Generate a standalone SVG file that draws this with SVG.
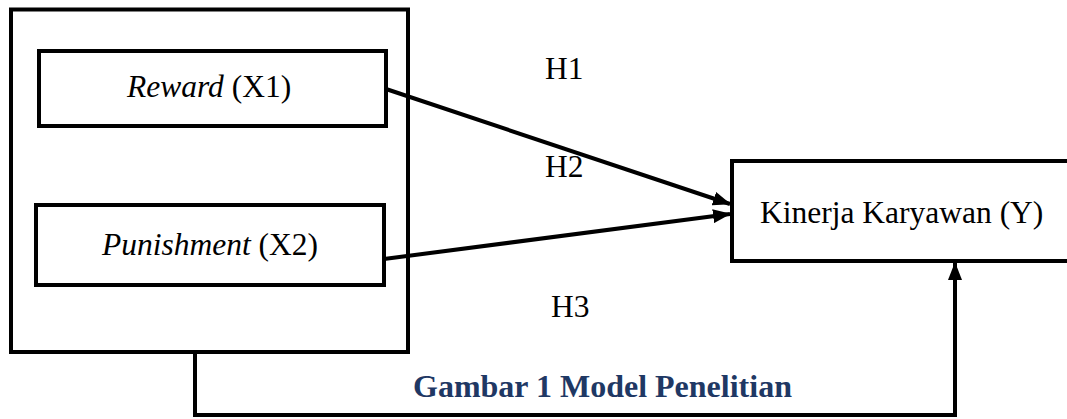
<svg xmlns="http://www.w3.org/2000/svg" width="1067" height="419" viewBox="0 0 1067 419">
<style>
.box{fill:#fff;stroke:#000;stroke-width:4}
.frame{fill:none;stroke:#000;stroke-width:4}
.t{font-family:"Liberation Serif","Times New Roman",serif;font-size:31.5px;fill:#000}
.i{font-style:italic}
.cap{font-family:"Liberation Serif","Times New Roman",serif;font-size:32px;font-weight:bold;fill:#1F3864}
.conn{fill:none;stroke:#000;stroke-width:4}
</style>
<defs>
<marker id="ah" markerUnits="userSpaceOnUse" markerWidth="18" markerHeight="14" refX="17" refY="7" orient="auto">
<path d="M0,0 L18,7 L0,14 Z" fill="#000"/>
</marker>
</defs>
<g id="group-x">
<rect class="frame" x="11" y="9.5" width="397" height="342.5"/>
</g>
<g id="reward">
<rect class="box" x="39" y="51" width="347" height="75"/>
<text class="t" x="127" y="97"><tspan class="i">Reward</tspan> (X1)</text>
</g>
<g id="punishment">
<rect class="box" x="36" y="205" width="348" height="80"/>
<text class="t" x="102" y="255"><tspan class="i">Punishment</tspan> (X2)</text>
</g>
<g id="kinerja">
<rect class="box" x="732" y="161" width="345" height="100"/>
<text class="t" x="760" y="223">Kinerja Karyawan (Y)</text>
</g>
<g id="connectors">
<line class="conn" x1="386" y1="89" x2="730" y2="204" marker-end="url(#ah)"/>
<line class="conn" x1="384" y1="259" x2="730" y2="214" marker-end="url(#ah)"/>
<polyline class="conn" points="195,352 195,415 955,415 955,263" marker-end="url(#ah)"/>
</g>
<g id="labels">
<text class="t" x="545" y="79">H1</text>
<text class="t" x="545" y="177">H2</text>
<text class="t" x="551" y="317">H3</text>
<text class="cap" x="413" y="397">Gambar 1 Model Penelitian</text>
</g>
</svg>
